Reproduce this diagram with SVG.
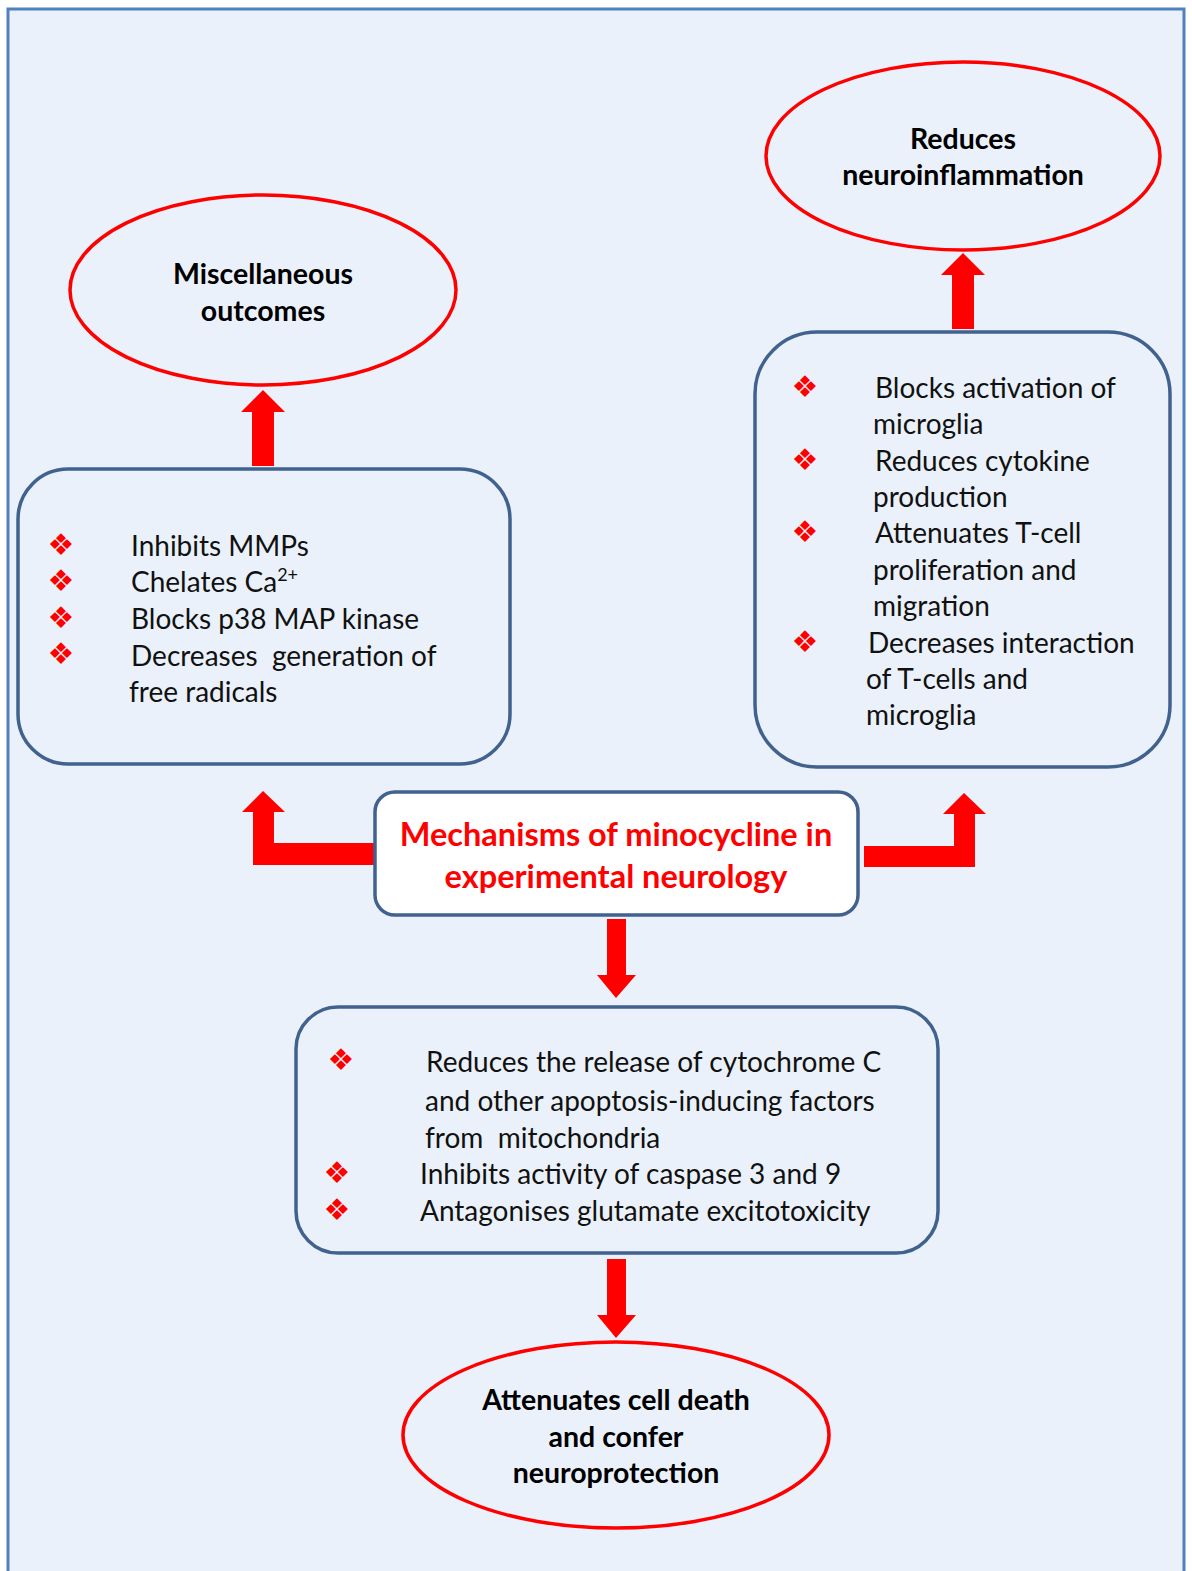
<svg xmlns="http://www.w3.org/2000/svg" width="1192" height="1571" viewBox="0 0 1192 1571">
<style>
.bg{fill:#EAF1FA;stroke:#4F81BD;stroke-width:3}
.ell{fill:#EAF1FA;stroke:#FF0000;stroke-width:3.5}
.box{fill:#EAF1FA;stroke:#41628E;stroke-width:3.5}
.cbox{fill:#FFFFFF;stroke:#41628E;stroke-width:3.5}
.arr{fill:#FF0000;stroke:none}
.t{font-family:Lato,"Open Sans","Liberation Sans",sans-serif;font-size:28px;fill:#111}
.h{font-family:Lato,"Open Sans","Liberation Sans",sans-serif;font-size:28.5px;font-weight:bold;fill:#000;text-anchor:middle}
.title{font-family:Lato,"Open Sans","Liberation Sans",sans-serif;font-size:32.5px;font-weight:bold;fill:#FF0000;text-anchor:middle}
.b{font-family:"DejaVu Sans",sans-serif;font-size:30px;fill:#FF0000;text-anchor:middle}
</style>
<rect class="bg" x="8" y="9" width="1176" height="1580"/>
<g id="connectors">
<polygon class="arr" points="252,466 274,466 274,412 285,412 263,390 241,412 252,412"/>
<polygon class="arr" points="952,329 974,329 974,275 985,275 963,253 941,275 952,275"/>
<polygon class="arr" points="375,843 274,843 274,812 285,812 263,791 242,812 253,812 253,865 375,865"/>
<polygon class="arr" points="864,846 954,846 954,814 943,814 964,793 986,814 975,814 975,867 864,867"/>
<polygon class="arr" points="607,919 626,919 626,975 636,975 616,998 597,975 607,975"/>
<polygon class="arr" points="607,1259 626,1259 626,1315 636,1315 616,1338 597,1315 607,1315"/>
</g>
<g id="neuroinflammation">
<ellipse class="ell" cx="963" cy="156" rx="197" ry="94"/>
<text class="h" x="963" y="149">Reduces</text>
<text class="h" x="963" y="185">neuroinflammation</text>
</g>
<g id="miscellaneous">
<ellipse class="ell" cx="263" cy="290" rx="193" ry="95"/>
<text class="h" x="263" y="284">Miscellaneous</text>
<text class="h" x="263" y="321">outcomes</text>
</g>
<g id="left-box">
<rect class="box" x="18" y="469" width="492" height="295" rx="50"/>
<text class="b" x="61" y="555">❖</text>
<text class="b" x="61" y="591">❖</text>
<text class="b" x="61" y="628">❖</text>
<text class="b" x="61" y="664">❖</text>
<text class="t" x="131" y="556">Inhibits MMPs</text>
<text class="t" x="131" y="592">Chelates Ca<tspan font-size="18" dy="-11">2+</tspan></text>
<text class="t" x="131" y="629">Blocks p38 MAP kinase</text>
<text class="t" x="131" y="666" xml:space="preserve">Decreases  generation of</text>
<text class="t" x="129" y="702">free radicals</text>
</g>
<g id="right-box">
<rect class="box" x="755" y="332" width="415" height="435" rx="62"/>
<text class="b" x="805" y="397">❖</text>
<text class="b" x="805" y="470">❖</text>
<text class="b" x="805" y="542">❖</text>
<text class="b" x="805" y="652">❖</text>
<text class="t" x="875" y="398">Blocks activation of</text>
<text class="t" x="873" y="434">microglia</text>
<text class="t" x="875" y="471">Reduces cytokine</text>
<text class="t" x="873" y="507">production</text>
<text class="t" x="875" y="543">Attenuates T-cell</text>
<text class="t" x="873" y="580">proliferation and</text>
<text class="t" x="873" y="616">migration</text>
<text class="t" x="868" y="653">Decreases interaction</text>
<text class="t" x="866" y="689">of T-cells and</text>
<text class="t" x="866" y="725">microglia</text>
</g>
<g id="center">
<rect class="cbox" x="375" y="792" width="483" height="123" rx="20"/>
<text class="title" x="616" y="846">Mechanisms of minocycline in</text>
<text class="title" x="616" y="888">experimental neurology</text>
</g>
<g id="bottom-box">
<rect class="box" x="296" y="1007" width="642" height="246" rx="42"/>
<text class="b" x="341" y="1070" font-size="38">❖</text>
<text class="b" x="337" y="1183">❖</text>
<text class="b" x="337" y="1220">❖</text>
<text class="t" x="426" y="1072">Reduces the release of cytochrome C</text>
<text class="t" x="425" y="1111">and other apoptosis-inducing factors</text>
<text class="t" x="425" y="1148" xml:space="preserve">from  mitochondria</text>
<text class="t" x="420" y="1184">Inhibits activity of caspase 3 and 9</text>
<text class="t" x="420" y="1221">Antagonises glutamate excitotoxicity</text>
</g>
<g id="neuroprotection">
<ellipse class="ell" cx="616" cy="1435" rx="213" ry="93"/>
<text class="h" x="616" y="1410">Attenuates cell death</text>
<text class="h" x="616" y="1447">and confer</text>
<text class="h" x="616" y="1483">neuroprotection</text>
</g>
</svg>
